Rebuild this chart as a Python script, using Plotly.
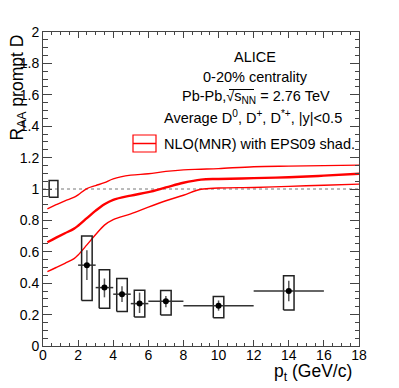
import plotly.graph_objects as go

RED = "#ff0000"
AXIS = "#444444"
FONT = "Liberation Sans, Arial, sans-serif"

# measured D-meson RAA, 0-20% Pb-Pb
pt = [2.5, 3.5, 4.5, 5.5, 7.0, 10.0, 14.0]
pt_half = [0.5, 0.5, 0.5, 0.5, 1.0, 2.0, 2.0]
raa = [0.515, 0.372, 0.33, 0.27, 0.285, 0.257, 0.35]
stat_hi = [0.61, 0.43, 0.38, 0.34, 0.319, 0.29, 0.415]
stat_lo = [0.42, 0.31, 0.28, 0.21, 0.247, 0.225, 0.285]
syst_hi = [0.70, 0.485, 0.43, 0.355, 0.353, 0.315, 0.447]
syst_lo = [0.29, 0.24, 0.22, 0.185, 0.198, 0.18, 0.23]
syst_half = 0.3

# normalisation uncertainty box at RAA = 1
norm_pt = [0.35, 0.85]
norm_r = [0.947, 1.054]

# NLO(MNR) with EPS09 shadowing band
pt_th = [0.25, 0.75, 1.25, 1.75, 2.0, 2.5, 3.0, 3.5, 4.0, 5.0, 6.0, 7.0, 8.0, 9.0, 10.0, 12.0, 14.0, 16.0, 18.0]
nlo_up = [0.874, 0.90, 0.925, 0.946, 0.963, 1.003, 1.022, 1.04, 1.065, 1.088, 1.097, 1.112, 1.122, 1.126, 1.13, 1.142, 1.146, 1.149, 1.152]
nlo_mid = [0.661, 0.69, 0.718, 0.746, 0.766, 0.814, 0.862, 0.903, 0.931, 0.958, 0.98, 1.01, 1.04, 1.06, 1.064, 1.069, 1.075, 1.085, 1.097]
nlo_lo = [0.474, 0.50, 0.527, 0.555, 0.58, 0.644, 0.71, 0.77, 0.805, 0.842, 0.885, 0.925, 0.96, 0.998, 1.006, 1.01, 1.017, 1.024, 1.031]


def boxes(xc, half, lo, hi):
    xs, ys = [], []
    for x, l, h in zip(xc, lo, hi):
        xs += [x - half, x + half, x + half, x - half, x - half, None]
        ys += [l, l, h, h, l, None]
    return xs, ys


fig = go.Figure()

fig.add_trace(go.Scatter(x=[0, 18], y=[1, 1], mode="lines",
                         line=dict(color="#777", width=1, dash="dot")))

fig.add_trace(go.Scatter(
    x=[norm_pt[0], norm_pt[1], norm_pt[1], norm_pt[0], norm_pt[0]],
    y=[norm_r[0], norm_r[0], norm_r[1], norm_r[1], norm_r[0]],
    mode="lines", line=dict(color="#222", width=1.5)))

for ys, w in [(nlo_up, 1.4), (nlo_mid, 2.4), (nlo_lo, 1.4)]:
    fig.add_trace(go.Scatter(x=pt_th, y=ys, mode="lines", line_shape="spline",
                             line=dict(color=RED, width=w)))

bx, by = boxes(pt, syst_half, syst_lo, syst_hi)
fig.add_trace(go.Scatter(x=bx, y=by, mode="lines", line=dict(color="#222", width=1.5)))

fig.add_trace(go.Scatter(
    x=pt, y=raa, mode="markers",
    marker=dict(color="black", size=6),
    error_x=dict(type="data", array=pt_half, color="#333", thickness=1.5, width=0),
    error_y=dict(type="data", symmetric=False,
                 array=[h - r for h, r in zip(stat_hi, raa)],
                 arrayminus=[r - l for l, r in zip(stat_lo, raa)],
                 color="#555", thickness=1.5, width=0),
))

# the page body has an 8px margin, so the figure is shrunk and shifted by it
OFF = 8
L, R, T, B = 35, 40, 24, 42
W, H = 391, 380
pw, ph = W - L - R, H - T - B


def px(x):
    return (x - OFF - L) / pw


def py(y):
    return (H - B - (y - OFF)) / ph


txt = dict(size=14.5, color="black", family=FONT)
notes = [
    ("ALICE", 255, 57),
    ("0-20% centrality", 255, 77),
    ("Pb-Pb,√s<sub>NN</sub> = 2.76 TeV", 256, 97),
    ("Average D<sup>0</sup>, D<sup>+</sup>, D<sup>*+</sup>, |y|&lt;0.5", 253, 117),
]
for t, x, y in notes:
    fig.add_annotation(text=t, x=px(x), y=py(y), xref="paper", yref="paper",
                       xanchor="center", yanchor="middle", showarrow=False, font=txt)
# bar of the square root over s_NN
fig.add_shape(type="line", xref="paper", yref="paper", x0=px(229), x1=px(254), y0=py(89.5), y1=py(89.5),
              line=dict(color="black", width=1))

fig.add_annotation(text="NLO(MNR) with EPS09 shad.", x=px(162), y=py(143.5), xref="paper", yref="paper",
                   xanchor="left", yanchor="middle", showarrow=False, font=txt)
fig.add_shape(type="rect", xref="paper", yref="paper", x0=px(133), x1=px(156), y0=py(152), y1=py(135),
              line=dict(color=RED, width=1.2))
fig.add_shape(type="line", xref="paper", yref="paper", x0=px(133), x1=px(156), y0=py(143.5), y1=py(143.5),
              line=dict(color=RED, width=1.5))

fig.add_annotation(text="R<sub>AA</sub> prompt D", x=px(4), y=py(33), xref="paper", yref="paper",
                   xanchor="left", yanchor="top", textangle=-90, showarrow=False,
                   font=dict(size=17.5, color="black", family=FONT))
fig.add_annotation(text="p<sub>t</sub> (GeV/c)", x=px(354), y=py(372), xref="paper", yref="paper",
                   xanchor="right", yanchor="middle", showarrow=False,
                   font=dict(size=17.5, color="black", family=FONT))

fig.update_layout(
    width=W, height=H,
    margin=dict(l=L, r=R, t=T, b=B),
    paper_bgcolor="white", plot_bgcolor="white",
    showlegend=False,
    font=dict(family=FONT, color="black", size=14),
)
fig.update_xaxes(range=[0, 18], dtick=2, showgrid=False, zeroline=False,
                 showline=True, linecolor=AXIS, linewidth=1, mirror="allticks",
                 ticks="inside", ticklen=6, tickcolor=AXIS, ticklabelstandoff=-4,
                 minor=dict(dtick=0.5, ticks="inside", ticklen=3, tickcolor=AXIS, showgrid=False))
fig.update_yaxes(range=[0, 2], dtick=0.2, showgrid=False, zeroline=False,
                 showline=True, linecolor=AXIS, linewidth=1, mirror="allticks",
                 ticks="inside", ticklen=9, tickcolor=AXIS,
                 minor=dict(dtick=0.05, ticks="inside", ticklen=4.5, tickcolor=AXIS, showgrid=False))

fig.write_html("out.html")
